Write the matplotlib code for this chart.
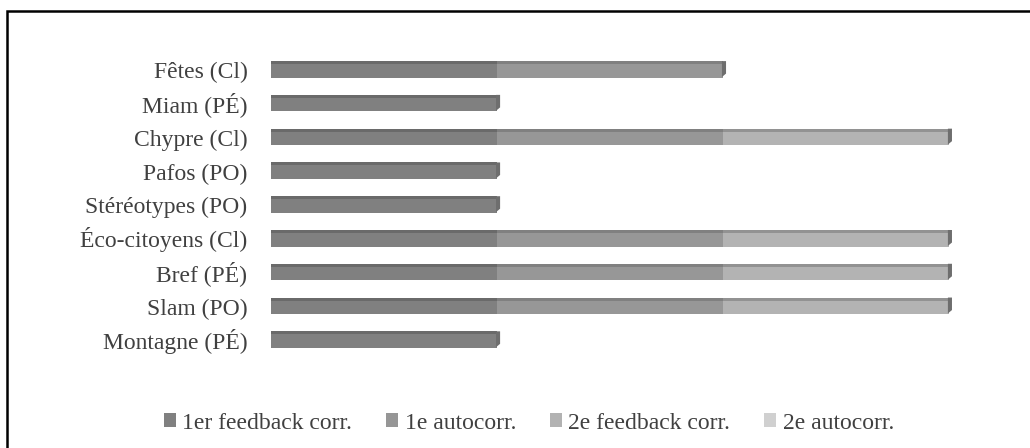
import matplotlib
matplotlib.use("Agg")
import matplotlib.pyplot as plt
from matplotlib.patches import Rectangle, Polygon, Patch
import matplotlib.transforms as mtransforms
import numpy as np

categories = ["Montagne (PÉ)", "Slam (PO)", "Bref (PÉ)", "Éco-citoyens (Cl)",
              "Stéréotypes (PO)", "Pafos (PO)", "Chypre (Cl)", "Miam (PÉ)", "Fêtes (Cl)"]
series_names = ["1er feedback corr.", "1e autocorr.", "2e feedback corr.", "2e autocorr."]
feedback1 = [1, 1, 1, 1, 1, 1, 1, 1, 1]
autocorr1 = [0, 1, 1, 1, 0, 0, 1, 0, 1]
feedback2 = [0, 1, 1, 1, 0, 0, 1, 0, 0]
autocorr2 = [0, 0, 0, 0, 0, 0, 0, 0, 0]

face_colors = ["#808080", "#979797", "#b3b3b3", "#d0d0d0"]
top_colors = ["#6a6a6a", "#808080", "#929292", "#aaaaaa"]
legend_colors = ["#808080", "#969696", "#b2b2b2", "#d0d0d0"]

W, H = 1030, 448
fig = plt.figure(figsize=(W / 100, H / 100), dpi=100)
fig.patch.set_facecolor("white")

# outer border (right/bottom edges fall outside the picture)
fig.add_artist(Rectangle((7 / W, -0.01), 1.05, 1 - 11 / H + 0.01, transform=fig.transFigure,
                         fill=False, edgecolor="black", linewidth=1.8))

ax_left, ax_right = 271, 994
ax_top, ax_bottom = 53, 357
ax = fig.add_axes([ax_left / W, 1 - ax_bottom / H, (ax_right - ax_left) / W, (ax_bottom - ax_top) / H])
ax.set_xlim(0, 3.2)
ax.set_ylim(-0.5, len(categories) - 0.5)
for s in ax.spines.values():
    s.set_visible(False)
ax.set_xticks([])
y = np.arange(len(categories))
ax.set_yticks(y)
ax.set_yticklabels(categories, fontsize=17, color="#404040", family="Liberation Serif",
                   va="baseline")
ax.tick_params(axis="y", length=0, pad=17)
offset = mtransforms.ScaledTranslation(0, -8.5 / 100, fig.dpi_scale_trans)
for lab in ax.get_yticklabels():
    lab.set_transform(lab.get_transform() + offset)

data = [feedback1, autocorr1, feedback2, autocorr2]
bar_h = 0.40
top_h = 0.09
left = np.zeros(len(categories))
for vals, fc, tc in zip(data, face_colors, top_colors):
    vals = np.array(vals, dtype=float)
    ax.barh(y - 0.03, vals, left=left, height=bar_h, color=fc, edgecolor="none", zorder=2)
    ax.barh(y - 0.03 + bar_h / 2 + top_h / 2, vals, left=left, height=top_h, color=tc,
            edgecolor="none", zorder=2)
    left = left + vals

# right end faces
dx = 0.014
for yi, tot in zip(y, left):
    yb = yi - 0.03 - bar_h / 2
    yt = yi - 0.03 + bar_h / 2 + top_h
    ax.add_patch(Polygon([(tot - 0.004, yb + 0.02), (tot + dx, yb + 0.12), (tot + dx, yt), (tot - 0.004, yt)],
                         closed=True, color="#6e6e6e", zorder=3, linewidth=0))

leg_handles = [Patch(facecolor=c, edgecolor="none") for c in legend_colors]
fig.legend(leg_handles, series_names, loc="center", bbox_to_anchor=(529 / W, 1 - 423 / H),
           ncol=4, frameon=False, handlelength=0.5, handleheight=0.5, handletextpad=0.27,
           columnspacing=1.45, prop={"family": "Liberation Serif", "size": 17},
           labelcolor="#404040")

fig.savefig("out.png", dpi=100, facecolor="white")
